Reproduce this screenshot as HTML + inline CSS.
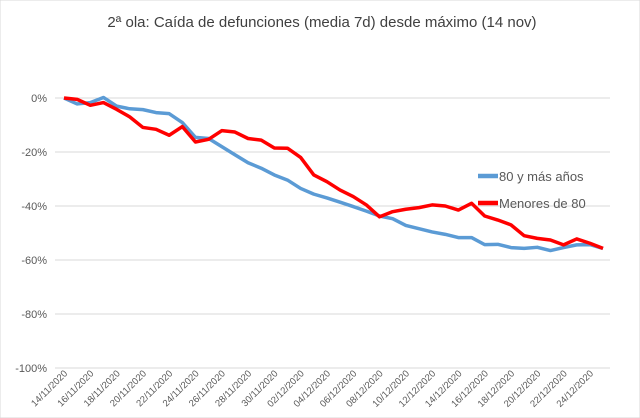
<!DOCTYPE html>
<html><head><meta charset="utf-8"><style>
body{margin:0;background:#fff;}
svg{display:block;font-family:"Liberation Sans",sans-serif;}
</style></head><body>
<svg id="c" width="640" height="418">
<rect width="640" height="418" fill="#fff" stroke="#d9d9d9"/>
<text x="322" y="27" text-anchor="middle" font-size="15" fill="#404040">2ª ola: Caída de defunciones (media 7d) desde máximo (14 nov)</text>
<g id="grid"></g><g id="xl"></g><g id="series"></g>
<g>
<line x1="478" y1="176" x2="498" y2="176" stroke="#5b9bd5" stroke-width="4.5"/>
<text x="499" y="181" font-size="13" fill="#595959">80 y más años</text>
<line x1="478" y1="203" x2="498" y2="203" stroke="#ff0000" stroke-width="4.5"/>
<text x="499" y="208" font-size="13" fill="#595959">Menores de 80</text>
</g>
</svg>
<script>
const startDay = 14; // 14/11/2020, 42 daily points
const blueVals = [0,-2.2,-1.7,0.2,-3,-4,-4.3,-5.4,-5.8,-9.1,-14.6,-15,-18,-21,-24,-26,-28.5,-30.4,-33.5,-35.6,-37,-38.6,-40.2,-41.9,-43.7,-44.7,-47.2,-48.4,-49.6,-50.5,-51.7,-51.7,-54.3,-54.2,-55.4,-55.7,-55.3,-56.5,-55.4,-54.4,-54.3,-55.7];
const redVals = [0,-0.5,-2.7,-1.7,-4.2,-7,-10.9,-11.6,-13.8,-10.6,-16.3,-15.3,-12.1,-12.6,-15,-15.6,-18.5,-18.6,-22,-28.5,-31,-34.1,-36.5,-39.6,-44,-42.1,-41.2,-40.6,-39.6,-40,-41.5,-39,-43.7,-45.2,-47,-51,-52,-52.6,-54.4,-52.2,-53.8,-55.7];
const yTicks = [0,-20,-40,-60,-80,-100];
const xLabels = ["14/11/2020","16/11/2020","18/11/2020","20/11/2020","22/11/2020","24/11/2020","26/11/2020","28/11/2020","30/11/2020","02/12/2020","04/12/2020","06/12/2020","08/12/2020","10/12/2020","12/12/2020","14/12/2020","16/12/2020","18/12/2020","20/12/2020","22/12/2020","24/12/2020"];
const NS="http://www.w3.org/2000/svg";
const x = i => 64 + i*(603-64)/(blueVals.length-1);
const y = v => 98 - v*2.7;
const grid=document.getElementById('grid');
yTicks.forEach(t=>{
  const l=document.createElementNS(NS,'line');
  l.setAttribute('x1',55);l.setAttribute('x2',610);l.setAttribute('y1',y(t));l.setAttribute('y2',y(t));
  l.setAttribute('stroke','#d9d9d9');
  
  
  grid.appendChild(l);
  const tx=document.createElementNS(NS,'text');
  tx.setAttribute('x',47);tx.setAttribute('y',y(t)+4);tx.setAttribute('text-anchor','end');
  tx.setAttribute('font-size','11');tx.setAttribute('fill','#595959');
  tx.textContent=t+'%';
  
  
  grid.appendChild(tx);
});
const xl=document.getElementById('xl');
xLabels.forEach((s,k)=>{
  const px=x(k*2)+4, py=374;
  const tx=document.createElementNS(NS,'text');
  tx.setAttribute('x',px);tx.setAttribute('y',py);tx.setAttribute('text-anchor','end');
  tx.setAttribute('font-size','9.5');tx.setAttribute('fill','#595959');
  tx.setAttribute('transform','rotate(-45 '+px+' '+py+')');
  tx.textContent=s;
  
  
  xl.appendChild(tx);
});
const ser=document.getElementById('series');
function line(vals,color,name){
  const p=document.createElementNS(NS,'polyline');
  p.setAttribute('points',vals.map((v,i)=>x(i)+','+y(v)).join(' '));
  p.setAttribute('fill','none');p.setAttribute('stroke',color);p.setAttribute('stroke-width','3.5');
  p.setAttribute('stroke-linejoin','round');
  
  
  ser.appendChild(p);
}
line(blueVals,'#5b9bd5','series-80-plus');
line(redVals,'#ff0000','series-under-80');
</script>
</body></html>
